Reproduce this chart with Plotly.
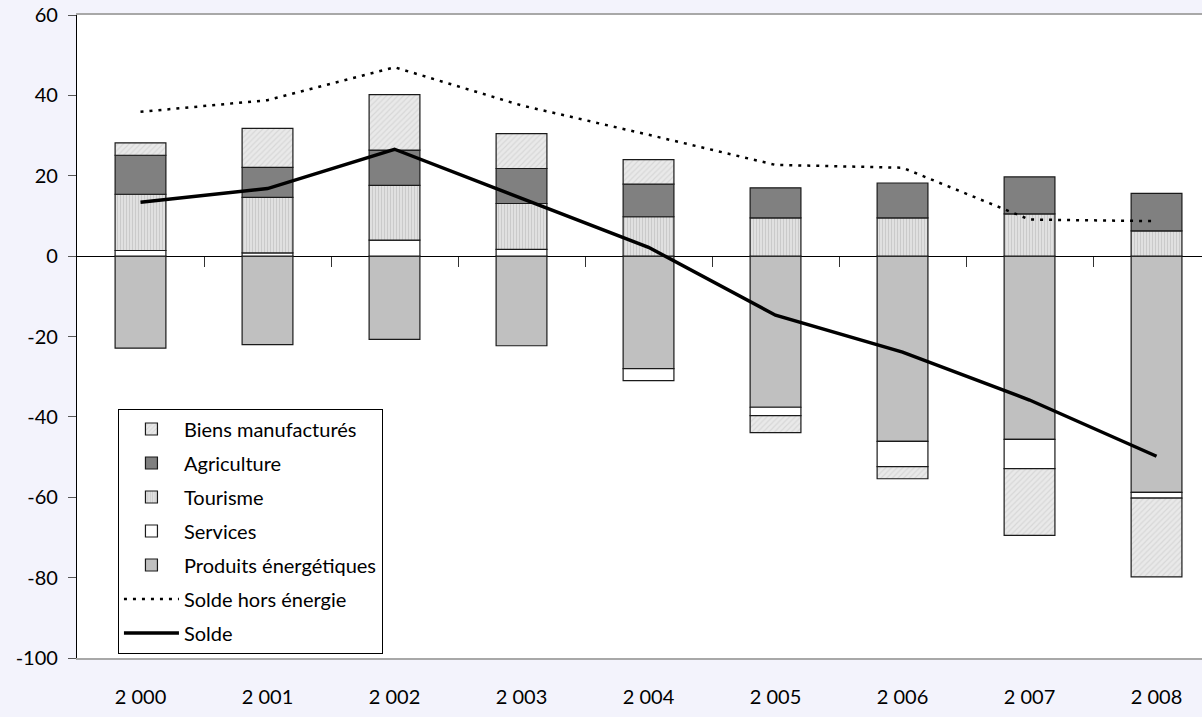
import plotly.graph_objects as go

years = ["2 000", "2 001", "2 002", "2 003", "2 004", "2 005", "2 006", "2 007", "2 008"]
energie = [-22.9, -22.0, -20.7, -22.3, -28.0, -37.6, -46.1, -45.6, -58.8]
services = [1.4, 0.8, 4.0, 1.7, -3.0, -2.1, -6.3, -7.3, -1.4]
tourisme = [14.0, 13.8, 13.6, 11.4, 9.8, 9.5, 9.5, 10.5, 6.3]
agriculture = [9.7, 7.5, 8.8, 8.7, 8.1, 7.5, 8.7, 9.2, 9.3]
biens = [3.1, 9.7, 13.8, 8.7, 6.1, -4.2, -3.0, -16.6, -19.6]
solde_hors = [35.9, 38.8, 47.0, 37.5, 30.2, 22.7, 22.0, 9.1, 8.7]
solde = [13.4, 16.8, 26.6, 14.5, 2.2, -14.7, -23.9, -35.8, -49.8]
y_ticks = [-100, -80, -60, -40, -20, 0, 20, 40, 60]
y_ticklabels = ["-100", "-80", "-60", "-40", "-20", "0", "20", "40", "60"]

xpos = list(range(len(years)))
FONT = "Lato, 'Gill Sans', 'DejaVu Sans', sans-serif"
FS = 20
outline = dict(color="#1a1a1a", width=1.2)
BW = 0.40

fig = go.Figure()
fig.add_trace(go.Bar(x=xpos, y=energie, name="Produits énergétiques", width=BW,
                     marker=dict(color="#C0C0C0", line=outline), legendrank=5, legendgroup="e"))
fig.add_trace(go.Bar(x=xpos, y=services, name="Services", width=BW,
                     marker=dict(color="#FFFFFF", line=outline), legendrank=4, legendgroup="s"))
fig.add_trace(go.Bar(x=xpos, y=tourisme, name="Tourisme", width=BW,
                     marker=dict(color="#DADADA", line=outline,
                                 pattern=dict(shape="|", bgcolor="#E0E0E0", fgcolor="#B4B4B4",
                                              size=3, solidity=0.35)), legendrank=3, legendgroup="t"))
fig.add_trace(go.Bar(x=xpos, y=agriculture, name="Agriculture", width=BW,
                     marker=dict(color="#808080", line=outline), legendrank=2, legendgroup="a"))
fig.add_trace(go.Bar(x=xpos, y=biens, name="Biens manufacturés", width=BW,
                     marker=dict(color="#E6E6E6", line=outline,
                                 pattern=dict(shape="/", bgcolor="#E9E9E9", fgcolor="#C6C6C6",
                                              size=4, solidity=0.3)), legendrank=1, legendgroup="b"))
fig.add_trace(go.Scatter(x=xpos, y=solde_hors, name="Solde hors énergie", mode="lines",
                         line=dict(color="black", width=2.5, dash="3px,6px"), legendrank=6,
                         legendgroup="h"))
fig.add_trace(go.Scatter(x=xpos, y=solde, name="Solde", mode="lines",
                         line=dict(color="black", width=3.5), legendrank=7, legendgroup="o"))

xr = [-0.5, 8.358]
fig.update_layout(
    width=1202, height=717,
    margin=dict(l=77, r=0, t=15, b=59),
    paper_bgcolor="#F3F3FC",
    plot_bgcolor="#FFFFFF",
    barmode="relative",
    font=dict(family=FONT, size=FS, color="black"),
    showlegend=True,
    legend=dict(x=0.0364, y=0.388, xanchor="left", yanchor="top",
                bgcolor="white", bordercolor="black", borderwidth=1,
                font=dict(family=FONT, size=FS, color="black"),
                itemwidth=55, tracegroupgap=5),
    xaxis=dict(range=xr, tickvals=xpos, ticktext=years, ticks="",
               ticklabelstandoff=20, showline=True, linecolor="#A8A8A8", linewidth=2,
               mirror=True, showgrid=False, zeroline=False,
               tickfont=dict(family=FONT, size=FS)),
    xaxis2=dict(range=xr, overlaying="x", anchor="free", position=0.625, side="bottom",
                tickvals=[i + 0.5 for i in xpos], ticks="outside", ticklen=10,
                tickcolor="#333", tickwidth=1, showticklabels=False,
                showline=False, showgrid=False, zeroline=False),
    yaxis=dict(range=[-100, 60], tickvals=y_ticks, ticktext=y_ticklabels,
               ticks="outside", ticklen=8, tickcolor="#555", ticklabelstandoff=6,
               showline=True, linecolor="black", linewidth=1.2, showgrid=False,
               zeroline=True, zerolinecolor="black", zerolinewidth=1.2,
               tickfont=dict(family=FONT, size=FS)),
)
fig.add_trace(go.Scatter(x=[None], y=[None], xaxis="x2", showlegend=False, hoverinfo="skip"))

fig.write_html("out.html", config={"displayModeBar": False},
               post_script="document.body.style.margin='0';document.body.style.overflow='hidden';")
